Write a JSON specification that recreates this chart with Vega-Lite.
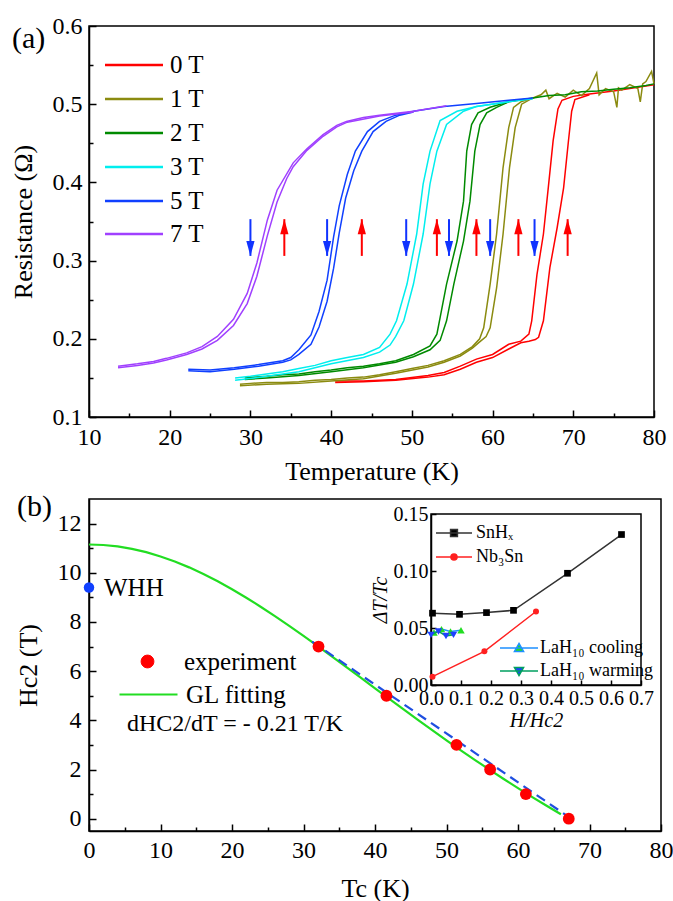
{
"$schema": "https://vega.github.io/schema/vega-lite/v6.json",
"background": "white",
"padding": {"left": 9, "top": 13, "right": 0, "bottom": 0},
"spacing": 82,
"bounds": "flush",
"config": {
  "font": "Liberation Serif",
  "view": {"stroke": "black", "strokeWidth": 1.5},
  "style": {"guide-label": {"font": "Liberation Serif", "fill": "black"}, "guide-title": {"font": "Liberation Serif", "fill": "black"}, "group-title": {"font": "Liberation Serif"}},
  "text": {"font": "Liberation Serif"},
  "axis": {"grid": false, "domainColor": "black", "domainWidth": 1.5, "tickColor": "black", "tickWidth": 1.5, "labelColor": "black", "titleColor": "black", "labelFont": "Liberation Serif", "titleFont": "Liberation Serif", "titleFontWeight": "normal", "labelFontSize": 24, "titleFontSize": 26, "labelOverlap": false, "labelFlush": false},
  "legend": {"labelFont": "Liberation Serif", "titleFont": "Liberation Serif", "labelColor": "black", "titleColor": "black", "titleFontWeight": "normal", "padding": 0, "title": null, "orient": "none"},
  "title": {"font": "Liberation Serif", "fontSize": 30, "fontWeight": "normal", "anchor": "start", "frame": "group", "orient": "none", "baseline": "top", "offset": 0, "color": "black"}
},
"vconcat": [
{
  "width": 565, "height": 391,
  "title": {"text": "(a)", "orient": "none", "dx": -77, "dy": -2},
  "resolve": {"axis": {"x": "independent", "y": "independent"}, "scale": {"shape": "independent"}},
  "layer": [
  {
    "data": {"values": [
{"f":"0 T","r":"c","T":40.5,"R":0.146},{"f":"0 T","r":"c","T":44,"R":0.146},{"f":"0 T","r":"c","T":48,"R":0.148},{"f":"0 T","r":"c","T":52,"R":0.153},{"f":"0 T","r":"c","T":54,"R":0.157},{"f":"0 T","r":"c","T":56,"R":0.165},{"f":"0 T","r":"c","T":58,"R":0.174},{"f":"0 T","r":"c","T":60,"R":0.180},{"f":"0 T","r":"c","T":62,"R":0.193},{"f":"0 T","r":"c","T":63.5,"R":0.197},{"f":"0 T","r":"c","T":64.5,"R":0.206},{"f":"0 T","r":"c","T":64.85,"R":0.223},{"f":"0 T","r":"c","T":65.5,"R":0.282},{"f":"0 T","r":"c","T":66.3,"R":0.334},{"f":"0 T","r":"c","T":66.9,"R":0.393},{"f":"0 T","r":"c","T":67.5,"R":0.453},{"f":"0 T","r":"c","T":68.1,"R":0.494},{"f":"0 T","r":"c","T":68.6,"R":0.505},{"f":"0 T","r":"c","T":70,"R":0.510},{"f":"0 T","r":"c","T":72,"R":0.513},{"f":"0 T","r":"c","T":75,"R":0.517},{"f":"0 T","r":"c","T":80,"R":0.525},
{"f":"0 T","r":"w","T":40.5,"R":0.144},{"f":"0 T","r":"w","T":44,"R":0.145},{"f":"0 T","r":"w","T":48,"R":0.147},{"f":"0 T","r":"w","T":52,"R":0.151},{"f":"0 T","r":"w","T":54,"R":0.154},{"f":"0 T","r":"w","T":56,"R":0.161},{"f":"0 T","r":"w","T":58,"R":0.170},{"f":"0 T","r":"w","T":60,"R":0.176},{"f":"0 T","r":"w","T":62,"R":0.187},{"f":"0 T","r":"w","T":63.5,"R":0.195},{"f":"0 T","r":"w","T":64.5,"R":0.197},{"f":"0 T","r":"w","T":65.3,"R":0.199},{"f":"0 T","r":"w","T":65.7,"R":0.202},{"f":"0 T","r":"w","T":66.3,"R":0.223},{"f":"0 T","r":"w","T":67.1,"R":0.291},{"f":"0 T","r":"w","T":68,"R":0.342},{"f":"0 T","r":"w","T":68.8,"R":0.393},{"f":"0 T","r":"w","T":69.4,"R":0.453},{"f":"0 T","r":"w","T":69.8,"R":0.491},{"f":"0 T","r":"w","T":70.2,"R":0.506},{"f":"0 T","r":"w","T":72,"R":0.512},
{"f":"1 T","r":"c","T":28.7,"R":0.142},{"f":"1 T","r":"c","T":30,"R":0.143},{"f":"1 T","r":"c","T":32,"R":0.144},{"f":"1 T","r":"c","T":34,"R":0.144},{"f":"1 T","r":"c","T":36,"R":0.145},{"f":"1 T","r":"c","T":38,"R":0.147},{"f":"1 T","r":"c","T":40,"R":0.148},{"f":"1 T","r":"c","T":42,"R":0.150},{"f":"1 T","r":"c","T":44,"R":0.151},{"f":"1 T","r":"c","T":46,"R":0.154},{"f":"1 T","r":"c","T":48,"R":0.158},{"f":"1 T","r":"c","T":50,"R":0.162},{"f":"1 T","r":"c","T":52,"R":0.166},{"f":"1 T","r":"c","T":54,"R":0.172},{"f":"1 T","r":"c","T":56,"R":0.180},{"f":"1 T","r":"c","T":57.5,"R":0.190},{"f":"1 T","r":"c","T":58.4,"R":0.200},{"f":"1 T","r":"c","T":58.9,"R":0.214},{"f":"1 T","r":"c","T":59.7,"R":0.270},{"f":"1 T","r":"c","T":60.5,"R":0.334},{"f":"1 T","r":"c","T":61.3,"R":0.419},{"f":"1 T","r":"c","T":62,"R":0.470},{"f":"1 T","r":"c","T":62.6,"R":0.496},{"f":"1 T","r":"c","T":63.5,"R":0.503},{"f":"1 T","r":"c","T":65,"R":0.508},{"f":"1 T","r":"c","T":66,"R":0.512},{"f":"1 T","r":"c","T":66.6,"R":0.518},{"f":"1 T","r":"c","T":67,"R":0.507},{"f":"1 T","r":"c","T":68,"R":0.514},{"f":"1 T","r":"c","T":69,"R":0.509},{"f":"1 T","r":"c","T":70,"R":0.518},{"f":"1 T","r":"c","T":71,"R":0.511},{"f":"1 T","r":"c","T":72,"R":0.520},{"f":"1 T","r":"c","T":72.9,"R":0.540},{"f":"1 T","r":"c","T":73.2,"R":0.512},{"f":"1 T","r":"c","T":74,"R":0.520},{"f":"1 T","r":"c","T":75,"R":0.516},{"f":"1 T","r":"c","T":75.4,"R":0.496},{"f":"1 T","r":"c","T":75.6,"R":0.521},{"f":"1 T","r":"c","T":76,"R":0.518},{"f":"1 T","r":"c","T":77,"R":0.525},{"f":"1 T","r":"c","T":78,"R":0.520},{"f":"1 T","r":"c","T":78.3,"R":0.503},{"f":"1 T","r":"c","T":78.6,"R":0.526},{"f":"1 T","r":"c","T":79,"R":0.529},{"f":"1 T","r":"c","T":79.7,"R":0.542},{"f":"1 T","r":"c","T":80,"R":0.526},
{"f":"1 T","r":"w","T":28.7,"R":0.140},{"f":"1 T","r":"w","T":32,"R":0.142},{"f":"1 T","r":"w","T":36,"R":0.143},{"f":"1 T","r":"w","T":40,"R":0.146},{"f":"1 T","r":"w","T":44,"R":0.149},{"f":"1 T","r":"w","T":48,"R":0.156},{"f":"1 T","r":"w","T":52,"R":0.164},{"f":"1 T","r":"w","T":54,"R":0.170},{"f":"1 T","r":"w","T":56,"R":0.178},{"f":"1 T","r":"w","T":57.5,"R":0.188},{"f":"1 T","r":"w","T":58.4,"R":0.196},{"f":"1 T","r":"w","T":59.2,"R":0.203},{"f":"1 T","r":"w","T":59.7,"R":0.214},{"f":"1 T","r":"w","T":60.5,"R":0.265},{"f":"1 T","r":"w","T":61.3,"R":0.334},{"f":"1 T","r":"w","T":62.1,"R":0.419},{"f":"1 T","r":"w","T":62.8,"R":0.470},{"f":"1 T","r":"w","T":63.6,"R":0.500},{"f":"1 T","r":"w","T":65,"R":0.508},
{"f":"2 T","r":"c","T":29.3,"R":0.150},{"f":"2 T","r":"c","T":32,"R":0.152},{"f":"2 T","r":"c","T":34,"R":0.154},{"f":"2 T","r":"c","T":36,"R":0.155},{"f":"2 T","r":"c","T":38,"R":0.158},{"f":"2 T","r":"c","T":40,"R":0.160},{"f":"2 T","r":"c","T":42,"R":0.163},{"f":"2 T","r":"c","T":44,"R":0.165},{"f":"2 T","r":"c","T":46,"R":0.168},{"f":"2 T","r":"c","T":48,"R":0.172},{"f":"2 T","r":"c","T":50.2,"R":0.180},{"f":"2 T","r":"c","T":52.25,"R":0.191},{"f":"2 T","r":"c","T":53.1,"R":0.206},{"f":"2 T","r":"c","T":53.5,"R":0.227},{"f":"2 T","r":"c","T":54.3,"R":0.270},{"f":"2 T","r":"c","T":55.6,"R":0.325},{"f":"2 T","r":"c","T":56.4,"R":0.376},{"f":"2 T","r":"c","T":56.8,"R":0.440},{"f":"2 T","r":"c","T":57.4,"R":0.474},{"f":"2 T","r":"c","T":58.2,"R":0.489},{"f":"2 T","r":"c","T":59.7,"R":0.496},{"f":"2 T","r":"c","T":62,"R":0.503},{"f":"2 T","r":"c","T":65,"R":0.508},{"f":"2 T","r":"c","T":67,"R":0.511},{"f":"2 T","r":"c","T":69,"R":0.512},{"f":"2 T","r":"c","T":71,"R":0.516},{"f":"2 T","r":"c","T":73,"R":0.517},{"f":"2 T","r":"c","T":75,"R":0.519},{"f":"2 T","r":"c","T":77,"R":0.521},{"f":"2 T","r":"c","T":79,"R":0.524},{"f":"2 T","r":"c","T":80,"R":0.526},
{"f":"2 T","r":"w","T":29.3,"R":0.148},{"f":"2 T","r":"w","T":32,"R":0.150},{"f":"2 T","r":"w","T":36,"R":0.153},{"f":"2 T","r":"w","T":40,"R":0.158},{"f":"2 T","r":"w","T":44,"R":0.163},{"f":"2 T","r":"w","T":48,"R":0.170},{"f":"2 T","r":"w","T":50.2,"R":0.177},{"f":"2 T","r":"w","T":52.25,"R":0.186},{"f":"2 T","r":"w","T":53.5,"R":0.198},{"f":"2 T","r":"w","T":54.3,"R":0.223},{"f":"2 T","r":"w","T":55.2,"R":0.270},{"f":"2 T","r":"w","T":56.4,"R":0.325},{"f":"2 T","r":"w","T":57.2,"R":0.376},{"f":"2 T","r":"w","T":57.8,"R":0.440},{"f":"2 T","r":"w","T":58.45,"R":0.474},{"f":"2 T","r":"w","T":59.27,"R":0.489},{"f":"2 T","r":"w","T":60.5,"R":0.496},{"f":"2 T","r":"w","T":62,"R":0.503},
{"f":"3 T","r":"c","T":28.1,"R":0.150},{"f":"3 T","r":"c","T":30,"R":0.152},{"f":"3 T","r":"c","T":32,"R":0.155},{"f":"3 T","r":"c","T":34,"R":0.158},{"f":"3 T","r":"c","T":36,"R":0.162},{"f":"3 T","r":"c","T":38,"R":0.166},{"f":"3 T","r":"c","T":40,"R":0.172},{"f":"3 T","r":"c","T":42,"R":0.176},{"f":"3 T","r":"c","T":44,"R":0.180},{"f":"3 T","r":"c","T":46,"R":0.189},{"f":"3 T","r":"c","T":47.3,"R":0.206},{"f":"3 T","r":"c","T":48.1,"R":0.223},{"f":"3 T","r":"c","T":49.4,"R":0.270},{"f":"3 T","r":"c","T":50.6,"R":0.334},{"f":"3 T","r":"c","T":51.4,"R":0.398},{"f":"3 T","r":"c","T":52.25,"R":0.440},{"f":"3 T","r":"c","T":53.5,"R":0.479},{"f":"3 T","r":"c","T":55.6,"R":0.491},{"f":"3 T","r":"c","T":58,"R":0.497},{"f":"3 T","r":"c","T":62,"R":0.503},{"f":"3 T","r":"c","T":65,"R":0.507},
{"f":"3 T","r":"w","T":28.1,"R":0.147},{"f":"3 T","r":"w","T":32,"R":0.152},{"f":"3 T","r":"w","T":36,"R":0.158},{"f":"3 T","r":"w","T":40,"R":0.168},{"f":"3 T","r":"w","T":44,"R":0.176},{"f":"3 T","r":"w","T":46,"R":0.183},{"f":"3 T","r":"w","T":47.3,"R":0.192},{"f":"3 T","r":"w","T":48,"R":0.203},{"f":"3 T","r":"w","T":49,"R":0.223},{"f":"3 T","r":"w","T":50.2,"R":0.270},{"f":"3 T","r":"w","T":51.4,"R":0.334},{"f":"3 T","r":"w","T":52.25,"R":0.398},{"f":"3 T","r":"w","T":53.1,"R":0.440},{"f":"3 T","r":"w","T":54.3,"R":0.474},{"f":"3 T","r":"w","T":56.4,"R":0.491},{"f":"3 T","r":"w","T":58,"R":0.497},{"f":"3 T","r":"w","T":62,"R":0.503},
{"f":"5 T","r":"c","T":22.3,"R":0.161},{"f":"5 T","r":"c","T":25,"R":0.160},{"f":"5 T","r":"c","T":28,"R":0.163},{"f":"5 T","r":"c","T":31,"R":0.167},{"f":"5 T","r":"c","T":34,"R":0.172},{"f":"5 T","r":"c","T":35,"R":0.176},{"f":"5 T","r":"c","T":36,"R":0.186},{"f":"5 T","r":"c","T":37.5,"R":0.205},{"f":"5 T","r":"c","T":38.5,"R":0.235},{"f":"5 T","r":"c","T":39.5,"R":0.275},{"f":"5 T","r":"c","T":40.3,"R":0.330},{"f":"5 T","r":"c","T":41,"R":0.370},{"f":"5 T","r":"c","T":42,"R":0.410},{"f":"5 T","r":"c","T":43,"R":0.440},{"f":"5 T","r":"c","T":44.5,"R":0.465},{"f":"5 T","r":"c","T":46,"R":0.478},{"f":"5 T","r":"c","T":48,"R":0.486},{"f":"5 T","r":"c","T":50.2,"R":0.491},{"f":"5 T","r":"c","T":54,"R":0.497},{"f":"5 T","r":"c","T":58,"R":0.501},{"f":"5 T","r":"c","T":62,"R":0.505},{"f":"5 T","r":"c","T":65,"R":0.508},
{"f":"5 T","r":"w","T":22.3,"R":0.159},{"f":"5 T","r":"w","T":25,"R":0.158},{"f":"5 T","r":"w","T":28,"R":0.161},{"f":"5 T","r":"w","T":31,"R":0.165},{"f":"5 T","r":"w","T":34,"R":0.170},{"f":"5 T","r":"w","T":35,"R":0.173},{"f":"5 T","r":"w","T":36,"R":0.180},{"f":"5 T","r":"w","T":37.5,"R":0.193},{"f":"5 T","r":"w","T":38.5,"R":0.215},{"f":"5 T","r":"w","T":39.5,"R":0.248},{"f":"5 T","r":"w","T":40.3,"R":0.290},{"f":"5 T","r":"w","T":41,"R":0.335},{"f":"5 T","r":"w","T":41.8,"R":0.380},{"f":"5 T","r":"w","T":42.8,"R":0.415},{"f":"5 T","r":"w","T":43.8,"R":0.440},{"f":"5 T","r":"w","T":45.2,"R":0.465},{"f":"5 T","r":"w","T":46.8,"R":0.478},{"f":"5 T","r":"w","T":48.5,"R":0.486},{"f":"5 T","r":"w","T":50.2,"R":0.490},
{"f":"7 T","r":"c","T":13.6,"R":0.165},{"f":"7 T","r":"c","T":16,"R":0.168},{"f":"7 T","r":"c","T":18,"R":0.171},{"f":"7 T","r":"c","T":19.6,"R":0.175},{"f":"7 T","r":"c","T":22.1,"R":0.182},{"f":"7 T","r":"c","T":24,"R":0.190},{"f":"7 T","r":"c","T":25.9,"R":0.203},{"f":"7 T","r":"c","T":27.9,"R":0.225},{"f":"7 T","r":"c","T":29.6,"R":0.258},{"f":"7 T","r":"c","T":30.8,"R":0.297},{"f":"7 T","r":"c","T":32.1,"R":0.352},{"f":"7 T","r":"c","T":33.3,"R":0.390},{"f":"7 T","r":"c","T":35.3,"R":0.425},{"f":"7 T","r":"c","T":37,"R":0.443},{"f":"7 T","r":"c","T":39,"R":0.461},{"f":"7 T","r":"c","T":40.7,"R":0.473},{"f":"7 T","r":"c","T":41.9,"R":0.478},{"f":"7 T","r":"c","T":44,"R":0.483},{"f":"7 T","r":"c","T":46,"R":0.486},{"f":"7 T","r":"c","T":50.2,"R":0.491},{"f":"7 T","r":"c","T":54.3,"R":0.498},
{"f":"7 T","r":"w","T":13.6,"R":0.163},{"f":"7 T","r":"w","T":16,"R":0.166},{"f":"7 T","r":"w","T":18,"R":0.169},{"f":"7 T","r":"w","T":19.6,"R":0.173},{"f":"7 T","r":"w","T":22.1,"R":0.180},{"f":"7 T","r":"w","T":24,"R":0.187},{"f":"7 T","r":"w","T":25.9,"R":0.198},{"f":"7 T","r":"w","T":27.9,"R":0.217},{"f":"7 T","r":"w","T":29.6,"R":0.245},{"f":"7 T","r":"w","T":30.8,"R":0.280},{"f":"7 T","r":"w","T":32.1,"R":0.332},{"f":"7 T","r":"w","T":33.3,"R":0.375},{"f":"7 T","r":"w","T":34.5,"R":0.405},{"f":"7 T","r":"w","T":35.3,"R":0.420},{"f":"7 T","r":"w","T":37,"R":0.441},{"f":"7 T","r":"w","T":39,"R":0.459},{"f":"7 T","r":"w","T":40.7,"R":0.471},{"f":"7 T","r":"w","T":42,"R":0.477},{"f":"7 T","r":"w","T":46,"R":0.485},{"f":"7 T","r":"w","T":50.2,"R":0.490}
    ]},
    "mark": {"type": "line", "strokeWidth": 1.5},
    "encoding": {
      "x": {"field": "T", "type": "quantitative", "scale": {"domain": [10, 80], "nice": false, "zero": false},
            "axis": {"orient": "bottom", "values": [10,20,30,40,50,60,70,80], "tickSize": -7, "labelPadding": 15, "labelFont": "Liberation Serif", "title": "Temperature (K)", "titlePadding": 9}},
      "y": {"field": "R", "type": "quantitative", "scale": {"domain": [0.1, 0.6], "nice": false, "zero": false},
            "axis": {"orient": "left", "values": [0.1,0.2,0.3,0.4,0.5,0.6], "format": ".1f", "tickSize": -7, "labelPadding": 14, "labelFont": "Liberation Serif", "title": "Resistance (Ω)", "titlePadding": 16}},
      "color": {"field": "f", "type": "nominal",
                "scale": {"domain": ["0 T","1 T","2 T","3 T","5 T","7 T"], "range": ["#ff0000","#8b8b10","#008a00","#00eeee","#1040ff","#a040ff"]},
                "legend": null},
      "detail": {"field": "r"}
    }
  },
  {
    "data": {"values": [{"T":30,"d":"down"},{"T":34.2,"d":"up"},{"T":39.5,"d":"down"},{"T":43.8,"d":"up"},{"T":49.3,"d":"down"},{"T":53.1,"d":"up"},{"T":54.6,"d":"down"},{"T":58,"d":"up"},{"T":59.7,"d":"down"},{"T":63.2,"d":"up"},{"T":65.2,"d":"down"},{"T":69.3,"d":"up"}]},
    "mark": {"type": "rule", "strokeWidth": 2},
    "encoding": {
      "x": {"field": "T", "type": "quantitative", "scale": {"domain": [10, 80], "nice": false, "zero": false},
            "axis": {"orient": "bottom", "values": [15,25,35,45,55,65,75], "tickSize": -4, "labels": false, "domain": false, "title": null}},
      "y": {"datum": 0.306, "type": "quantitative", "scale": {"domain": [0.1, 0.6], "nice": false, "zero": false},
            "axis": {"orient": "left", "values": [0.15,0.25,0.35,0.45,0.55], "tickSize": -4, "labels": false, "domain": false, "title": null}},
      "y2": {"datum": 0.353},
      "color": {"condition": {"test": "datum.d === 'up'", "value": "#ff0000"}, "value": "#1033ff"}
    }
  },
  {
    "data": {"values": [{"T":30,"d":"down"},{"T":39.5,"d":"down"},{"T":49.3,"d":"down"},{"T":54.6,"d":"down"},{"T":59.7,"d":"down"},{"T":65.2,"d":"down"}]},
    "mark": {"type": "point", "shape": "M0,0L-0.55,-2L0.55,-2Z", "filled": true, "size": 225, "color": "#1033ff", "opacity": 1},
    "encoding": {
      "x": {"field": "T", "type": "quantitative", "scale": {"domain": [10, 80], "nice": false, "zero": false}, "axis": null},
      "y": {"datum": 0.306, "type": "quantitative", "axis": null}
    }
  },
  {
    "data": {"values": [{"T":34.2,"d":"up"},{"T":43.8,"d":"up"},{"T":53.1,"d":"up"},{"T":58,"d":"up"},{"T":63.2,"d":"up"},{"T":69.3,"d":"up"}]},
    "mark": {"type": "point", "shape": "M0,0L-0.55,2L0.55,2Z", "filled": true, "size": 225, "color": "#ff0000", "opacity": 1},
    "encoding": {
      "x": {"field": "T", "type": "quantitative", "scale": {"domain": [10, 80], "nice": false, "zero": false}, "axis": null},
      "y": {"datum": 0.353, "type": "quantitative", "axis": null}
    }
  },
  {"data": {"values": [{"k":"0 T"}]}, "transform": [{"filter": "datum.k == 'none'"}],
   "mark": {"type": "point", "filled": false, "stroke": "#ff0000", "strokeWidth": 2.5, "opacity": 1},
   "encoding": {"shape": {"field": "k", "type": "nominal", "scale": {"domain": ["0 T"], "range": ["M-1,0H1"]},
     "legend": {"orient": "none", "legendX": 14.5, "legendY": 8.5, "title": null, "symbolSize": 3364, "symbolStrokeWidth": 2.5, "labelFontSize": 25, "labelFont": "Liberation Serif", "labelOffset": 5.5}}}},
  {"data": {"values": [{"k":"1 T"}]}, "transform": [{"filter": "datum.k == 'none'"}],
   "mark": {"type": "point", "filled": false, "stroke": "#8b8b10", "strokeWidth": 2.5, "opacity": 1},
   "encoding": {"shape": {"field": "k", "type": "nominal", "scale": {"domain": ["1 T"], "range": ["M-1,0H1"]},
     "legend": {"orient": "none", "legendX": 14.5, "legendY": 42.5, "title": null, "symbolSize": 3364, "symbolStrokeWidth": 2.5, "labelFontSize": 25, "labelFont": "Liberation Serif", "labelOffset": 5.5}}}},
  {"data": {"values": [{"k":"2 T"}]}, "transform": [{"filter": "datum.k == 'none'"}],
   "mark": {"type": "point", "filled": false, "stroke": "#008a00", "strokeWidth": 2.5, "opacity": 1},
   "encoding": {"shape": {"field": "k", "type": "nominal", "scale": {"domain": ["2 T"], "range": ["M-1,0H1"]},
     "legend": {"orient": "none", "legendX": 14.5, "legendY": 76.5, "title": null, "symbolSize": 3364, "symbolStrokeWidth": 2.5, "labelFontSize": 25, "labelFont": "Liberation Serif", "labelOffset": 5.5}}}},
  {"data": {"values": [{"k":"3 T"}]}, "transform": [{"filter": "datum.k == 'none'"}],
   "mark": {"type": "point", "filled": false, "stroke": "#00eeee", "strokeWidth": 2.5, "opacity": 1},
   "encoding": {"shape": {"field": "k", "type": "nominal", "scale": {"domain": ["3 T"], "range": ["M-1,0H1"]},
     "legend": {"orient": "none", "legendX": 14.5, "legendY": 110.5, "title": null, "symbolSize": 3364, "symbolStrokeWidth": 2.5, "labelFontSize": 25, "labelFont": "Liberation Serif", "labelOffset": 5.5}}}},
  {"data": {"values": [{"k":"5 T"}]}, "transform": [{"filter": "datum.k == 'none'"}],
   "mark": {"type": "point", "filled": false, "stroke": "#1040ff", "strokeWidth": 2.5, "opacity": 1},
   "encoding": {"shape": {"field": "k", "type": "nominal", "scale": {"domain": ["5 T"], "range": ["M-1,0H1"]},
     "legend": {"orient": "none", "legendX": 14.5, "legendY": 144.5, "title": null, "symbolSize": 3364, "symbolStrokeWidth": 2.5, "labelFontSize": 25, "labelFont": "Liberation Serif", "labelOffset": 5.5}}}},
  {"data": {"values": [{"k":"7 T"}]}, "transform": [{"filter": "datum.k == 'none'"}],
   "mark": {"type": "point", "filled": false, "stroke": "#a040ff", "strokeWidth": 2.5, "opacity": 1},
   "encoding": {"shape": {"field": "k", "type": "nominal", "scale": {"domain": ["7 T"], "range": ["M-1,0H1"]},
     "legend": {"orient": "none", "legendX": 14.5, "legendY": 177.5, "title": null, "symbolSize": 3364, "symbolStrokeWidth": 2.5, "labelFontSize": 25, "labelFont": "Liberation Serif", "labelOffset": 5.5}}}}
  ]
},
{
  "width": 572, "height": 332,
  "title": {"text": "(b)", "orient": "none", "dx": -72, "dy": -7},
  "resolve": {"scale": {"x": "independent", "y": "independent", "shape": "independent", "fill": "independent", "stroke": "independent"}},
  "layer": [
  {
    "resolve": {"axis": {"x": "independent", "y": "independent"}, "scale": {"shape": "independent"}},
    "layer": [
    {
      "data": {"values": [{"T":0,"H":11.15},{"T":2,"H":11.13},{"T":4,"H":11.071},{"T":6,"H":10.973},{"T":8,"H":10.838},{"T":10,"H":10.665},{"T":12,"H":10.459},{"T":14,"H":10.22},{"T":16,"H":9.95},{"T":18,"H":9.653},{"T":20,"H":9.331},{"T":22,"H":8.986},{"T":24,"H":8.62},{"T":26,"H":8.239},{"T":28,"H":7.843},{"T":30,"H":7.435},{"T":32,"H":7.018},{"T":34,"H":6.594},{"T":36,"H":6.166},{"T":38,"H":5.736},{"T":40,"H":5.303},{"T":42,"H":4.873},{"T":44,"H":4.445},{"T":46,"H":4.019},{"T":48,"H":3.601},{"T":50,"H":3.188},{"T":52,"H":2.782},{"T":54,"H":2.385},{"T":56,"H":1.994},{"T":58,"H":1.613},{"T":60,"H":1.242},{"T":62,"H":0.88},{"T":64,"H":0.527},{"T":66,"H":0.184}]},
      "mark": {"type": "line", "color": "#22dd22", "strokeWidth": 2.2},
      "encoding": {
        "x": {"field": "T", "type": "quantitative", "scale": {"domain": [0, 80], "nice": false, "zero": false},
              "axis": {"orient": "bottom", "values": [0,10,20,30,40,50,60,70,80], "tickSize": -7, "labelPadding": 14, "labelFont": "Liberation Serif", "title": "Tc (K)", "titlePadding": 13}},
        "y": {"field": "H", "type": "quantitative", "scale": {"domain": [-0.5, 13], "nice": false, "zero": false},
              "axis": {"orient": "left", "values": [0,2,4,6,8,10,12], "tickSize": -7, "labelPadding": 15, "labelFont": "Liberation Serif", "title": "Hc2 (T)", "titlePadding": 16}}
      }
    },
    {
      "data": {"values": [{"T":31.2,"H":7.2},{"T":67.2,"H":0.05}]},
      "mark": {"type": "line", "color": "#1f4fe0", "strokeWidth": 2.2, "strokeDash": [10, 6]},
      "encoding": {
        "x": {"field": "T", "type": "quantitative", "scale": {"domain": [0, 80], "nice": false, "zero": false},
              "axis": {"orient": "bottom", "values": [5,15,25,35,45,55,65,75], "tickSize": -4, "labels": false, "domain": false, "title": null}},
        "y": {"field": "H", "type": "quantitative", "scale": {"domain": [-0.5, 13], "nice": false, "zero": false},
              "axis": {"orient": "left", "values": [1,3,5,7,9,11], "tickSize": -4, "labels": false, "domain": false, "title": null}}
      }
    },
    {
      "data": {"values": [{"T":32.1,"H":7},{"T":41.6,"H":5},{"T":51.4,"H":3},{"T":56.1,"H":2},{"T":61.1,"H":1},{"T":67.1,"H":0}]},
      "mark": {"type": "circle", "color": "#ff0000", "size": 140, "opacity": 1},
      "encoding": {
        "x": {"field": "T", "type": "quantitative", "scale": {"domain": [0, 80], "nice": false, "zero": false}, "axis": null},
        "y": {"field": "H", "type": "quantitative", "scale": {"domain": [-0.5, 13], "nice": false, "zero": false}, "axis": null}
      }
    },
    {
      "data": {"values": [{"T":0,"H":9.4,"label":"WHH"}]},
      "mark": {"type": "circle", "color": "#1040ff", "size": 110, "opacity": 1},
      "encoding": {
        "x": {"field": "T", "type": "quantitative", "scale": {"domain": [0, 80], "nice": false, "zero": false}, "axis": null},
        "y": {"field": "H", "type": "quantitative", "scale": {"domain": [-0.5, 13], "nice": false, "zero": false}, "axis": null}
      }
    },
    {
      "data": {"values": [{"T":0,"H":9.4,"label":"WHH"}]},
      "mark": {"type": "text", "align": "left", "baseline": "middle", "dx": 15, "fontSize": 25, "color": "black", "font": "Liberation Serif"},
      "encoding": {
        "x": {"field": "T", "type": "quantitative", "scale": {"domain": [0, 80], "nice": false, "zero": false}, "axis": null},
        "y": {"field": "H", "type": "quantitative", "scale": {"domain": [-0.5, 13], "nice": false, "zero": false}, "axis": null},
        "text": {"field": "label"}
      }
    },
    {"data": {"values": [{"k":"experiment"}]}, "transform": [{"filter": "datum.k == 'none'"}],
     "mark": {"type": "point", "filled": true, "fill": "#ff0000", "stroke": "#ff0000", "strokeWidth": 1, "opacity": 1},
     "encoding": {"shape": {"field": "k", "type": "nominal", "scale": {"domain": ["experiment"], "range": ["M-0.22,0A0.22,0.22,0,1,1,0.22,0A0.22,0.22,0,1,1,-0.22,0Z"]},
       "legend": {"orient": "none", "legendX": 29, "legendY": 133, "title": null, "symbolSize": 3364, "symbolStrokeWidth": 1, "labelFontSize": 25, "labelFont": "Liberation Serif", "labelOffset": 7}}}},
    {"data": {"values": [{"k":"GL fitting"}]}, "transform": [{"filter": "datum.k == 'none'"}],
     "mark": {"type": "point", "filled": false, "stroke": "#22dd22", "strokeWidth": 2.2, "opacity": 1},
     "encoding": {"shape": {"field": "k", "type": "nominal", "scale": {"domain": ["GL fitting"], "range": ["M-1,0H1"]},
       "legend": {"orient": "none", "legendX": 29, "legendY": 165, "title": null, "symbolSize": 3364, "symbolStrokeWidth": 2.2, "labelFontSize": 25, "labelFont": "Liberation Serif", "labelOffset": 7}}}},
    {"data": {"values": [{"k":"dHC2/dT = - 0.21 T/K"}]}, "transform": [{"filter": "datum.k == 'none'"}],
     "mark": {"type": "point", "filled": false, "stroke": "transparent", "strokeWidth": 0, "opacity": 1},
     "encoding": {"shape": {"field": "k", "type": "nominal", "scale": {"domain": ["dHC2/dT = - 0.21 T/K"], "range": ["M0,0"]},
       "legend": {"orient": "none", "legendX": 29, "legendY": 213, "title": null, "symbolSize": 1, "symbolStrokeWidth": 0, "labelFontSize": 24, "labelFont": "Liberation Serif", "labelOffset": -15, "labelLimit": 400}}}}
    ]
  },
  {
    "resolve": {"scale": {"shape": "independent"}},
    "layer": [
    {
      "data": {"values": [{"k":"frame"}]},
      "mark": {"type": "rect", "filled": false, "stroke": "black", "strokeWidth": 1.5},
      "encoding": {
        "x": {"datum": 0, "type": "quantitative", "scale": {"domain": [0, 0.7], "range": [342, 552], "nice": false, "zero": false},
              "axis": {"orient": "bottom", "offset": -146, "values": [0,0.1,0.2,0.3,0.4,0.5,0.6,0.7], "format": ".1f", "tickSize": -5, "labelFontSize": 20, "labelFont": "Liberation Serif", "labelPadding": 8, "title": "H/Hc2", "titleFontSize": 20, "titleFontStyle": "italic", "titlePadding": 2}},
        "x2": {"datum": 0.7},
        "y": {"datum": 0, "type": "quantitative", "scale": {"domain": [0, 0.15], "range": [186, 15], "nice": false, "zero": false},
              "axis": {"orient": "left", "offset": -342, "values": [0,0.05,0.1,0.15], "format": ".2f", "tickSize": -5, "labelFontSize": 20, "labelFont": "Liberation Serif", "labelPadding": 8, "title": "ΔT/Tc", "titleFontSize": 20, "titleFontStyle": "italic", "titlePadding": 3}},
        "y2": {"datum": 0.15}
      }
    },
    {
      "data": {"values": [{"s":"SnHx","h":0.005,"d":0.063},{"s":"SnHx","h":0.095,"d":0.062},{"s":"SnHx","h":0.185,"d":0.0635},{"s":"SnHx","h":0.275,"d":0.0655},{"s":"SnHx","h":0.455,"d":0.098},{"s":"SnHx","h":0.635,"d":0.132}]},
      "mark": {"type": "line", "color": "#333333", "strokeWidth": 1.5, "point": {"shape": "square", "filled": true, "size": 45, "color": "black", "opacity": 1}},
      "encoding": {
        "x": {"field": "h", "type": "quantitative", "scale": {"domain": [0, 0.7], "range": [342, 552], "nice": false, "zero": false},
              "axis": {"orient": "bottom", "offset": -146, "values": [0,0.1,0.2,0.3,0.4,0.5,0.6,0.7], "format": ".1f", "tickSize": -5, "labelFontSize": 20, "labelFont": "Liberation Serif", "labelPadding": 8, "title": "H/Hc2", "titleFontSize": 20, "titleFontStyle": "italic", "titlePadding": 2}},
        "y": {"field": "d", "type": "quantitative", "scale": {"domain": [0, 0.15], "range": [186, 15], "nice": false, "zero": false},
              "axis": {"orient": "left", "offset": -342, "values": [0,0.05,0.1,0.15], "format": ".2f", "tickSize": -5, "labelFontSize": 20, "labelFont": "Liberation Serif", "labelPadding": 8, "title": "ΔT/Tc", "titleFontSize": 20, "titleFontStyle": "italic", "titlePadding": 3}}
      }
    },
    {
      "data": {"values": [{"s":"Nb3Sn","h":0.005,"d":0.0073},{"s":"Nb3Sn","h":0.178,"d":0.0295},{"s":"Nb3Sn","h":0.35,"d":0.0645}]},
      "mark": {"type": "line", "color": "#ff2020", "strokeWidth": 1.5, "point": {"shape": "circle", "filled": true, "size": 36, "color": "#ff2020", "opacity": 1}},
      "encoding": {
        "x": {"field": "h", "type": "quantitative", "scale": {"domain": [0, 0.7], "range": [342, 552], "nice": false, "zero": false},
              "axis": {"orient": "bottom", "offset": -146, "values": [0,0.1,0.2,0.3,0.4,0.5,0.6,0.7], "format": ".1f", "tickSize": -5, "labelFontSize": 20, "labelFont": "Liberation Serif", "labelPadding": 8, "title": "H/Hc2", "titleFontSize": 20, "titleFontStyle": "italic", "titlePadding": 2}},
        "y": {"field": "d", "type": "quantitative", "scale": {"domain": [0, 0.15], "range": [186, 15], "nice": false, "zero": false},
              "axis": {"orient": "left", "offset": -342, "values": [0,0.05,0.1,0.15], "format": ".2f", "tickSize": -5, "labelFontSize": 20, "labelFont": "Liberation Serif", "labelPadding": 8, "title": "ΔT/Tc", "titleFontSize": 20, "titleFontStyle": "italic", "titlePadding": 3}}
      }
    },
    {
      "data": {"values": [{"s":"LaH10 cooling","h":0.01,"d":0.046},{"s":"LaH10 cooling","h":0.035,"d":0.049},{"s":"LaH10 cooling","h":0.065,"d":0.047},{"s":"LaH10 cooling","h":0.1,"d":0.048}]},
      "mark": {"type": "line", "color": "#1e90ff", "strokeWidth": 1.5, "point": {"shape": "triangle-up", "filled": true, "size": 55, "color": "#22dd22", "opacity": 1}},
      "encoding": {
        "x": {"field": "h", "type": "quantitative", "scale": {"domain": [0, 0.7], "range": [342, 552], "nice": false, "zero": false},
              "axis": {"orient": "bottom", "offset": -146, "values": [0,0.1,0.2,0.3,0.4,0.5,0.6,0.7], "format": ".1f", "tickSize": -5, "labelFontSize": 20, "labelFont": "Liberation Serif", "labelPadding": 8, "title": "H/Hc2", "titleFontSize": 20, "titleFontStyle": "italic", "titlePadding": 2}},
        "y": {"field": "d", "type": "quantitative", "scale": {"domain": [0, 0.15], "range": [186, 15], "nice": false, "zero": false},
              "axis": {"orient": "left", "offset": -342, "values": [0,0.05,0.1,0.15], "format": ".2f", "tickSize": -5, "labelFontSize": 20, "labelFont": "Liberation Serif", "labelPadding": 8, "title": "ΔT/Tc", "titleFontSize": 20, "titleFontStyle": "italic", "titlePadding": 3}}
      }
    },
    {
      "data": {"values": [{"s":"LaH10 warming","h":0.0,"d":0.044},{"s":"LaH10 warming","h":0.025,"d":0.047},{"s":"LaH10 warming","h":0.05,"d":0.043},{"s":"LaH10 warming","h":0.075,"d":0.044}]},
      "mark": {"type": "line", "color": "#00a060", "strokeWidth": 1.5, "point": {"shape": "triangle-down", "filled": true, "size": 55, "color": "#1f3fff", "opacity": 1}},
      "encoding": {
        "x": {"field": "h", "type": "quantitative", "scale": {"domain": [0, 0.7], "range": [342, 552], "nice": false, "zero": false},
              "axis": {"orient": "bottom", "offset": -146, "values": [0,0.1,0.2,0.3,0.4,0.5,0.6,0.7], "format": ".1f", "tickSize": -5, "labelFontSize": 20, "labelFont": "Liberation Serif", "labelPadding": 8, "title": "H/Hc2", "titleFontSize": 20, "titleFontStyle": "italic", "titlePadding": 2}},
        "y": {"field": "d", "type": "quantitative", "scale": {"domain": [0, 0.15], "range": [186, 15], "nice": false, "zero": false},
              "axis": {"orient": "left", "offset": -342, "values": [0,0.05,0.1,0.15], "format": ".2f", "tickSize": -5, "labelFontSize": 20, "labelFont": "Liberation Serif", "labelPadding": 8, "title": "ΔT/Tc", "titleFontSize": 20, "titleFontStyle": "italic", "titlePadding": 3}}
      }
    },
    {"data": {"values": [{"k":"SnHₓ"}]}, "transform": [{"filter": "datum.k == 'none'"}],
     "mark": {"type": "point", "filled": true, "fill": "#000000", "stroke": "#333333", "strokeWidth": 1.5, "opacity": 1},
     "encoding": {"shape": {"field": "k", "type": "nominal", "scale": {"domain": ["SnHₓ"], "range": ["M-1,0H1M-0.19,-0.19H0.19V0.19H-0.19Z"]},
       "legend": {"orient": "none", "legendX": 346, "legendY": 15, "title": null, "symbolSize": 1296, "symbolStrokeWidth": 1.5, "labelFontSize": 18, "labelFont": "Liberation Serif", "labelOffset": 3}}}},
    {"data": {"values": [{"k":"Nb₃Sn"}]}, "transform": [{"filter": "datum.k == 'none'"}],
     "mark": {"type": "point", "filled": true, "fill": "#ff2020", "stroke": "#ff2020", "strokeWidth": 1.5, "opacity": 1},
     "encoding": {"shape": {"field": "k", "type": "nominal", "scale": {"domain": ["Nb₃Sn"], "range": ["M-1,0H1M-0.17,0A0.17,0.17,0,1,1,0.17,0A0.17,0.17,0,1,1,-0.17,0Z"]},
       "legend": {"orient": "none", "legendX": 346, "legendY": 39, "title": null, "symbolSize": 1296, "symbolStrokeWidth": 1.5, "labelFontSize": 18, "labelFont": "Liberation Serif", "labelOffset": 3}}}},
    {"data": {"values": [{"k":"LaH₁₀ cooling"}]}, "transform": [{"filter": "datum.k == 'none'"}],
     "mark": {"type": "point", "filled": true, "fill": "#22dd22", "stroke": "#1e90ff", "strokeWidth": 1.5, "opacity": 1},
     "encoding": {"shape": {"field": "k", "type": "nominal", "scale": {"domain": ["LaH₁₀ cooling"], "range": ["M-1,0H1M0,-0.24L0.24,0.18H-0.24Z"]},
       "legend": {"orient": "none", "legendX": 410, "legendY": 129, "title": null, "symbolSize": 1444, "symbolStrokeWidth": 1.5, "labelFontSize": 18, "labelFont": "Liberation Serif", "labelOffset": 1}}}},
    {"data": {"values": [{"k":"LaH₁₀ warming"}]}, "transform": [{"filter": "datum.k == 'none'"}],
     "mark": {"type": "point", "filled": true, "fill": "#1f3fff", "stroke": "#00a060", "strokeWidth": 1.5, "opacity": 1},
     "encoding": {"shape": {"field": "k", "type": "nominal", "scale": {"domain": ["LaH₁₀ warming"], "range": ["M-1,0H1M0,0.24L0.24,-0.18H-0.24Z"]},
       "legend": {"orient": "none", "legendX": 410, "legendY": 152, "title": null, "symbolSize": 1444, "symbolStrokeWidth": 1.5, "labelFontSize": 18, "labelFont": "Liberation Serif", "labelOffset": 1}}}}
    ]
  }
  ]
}
]
}
